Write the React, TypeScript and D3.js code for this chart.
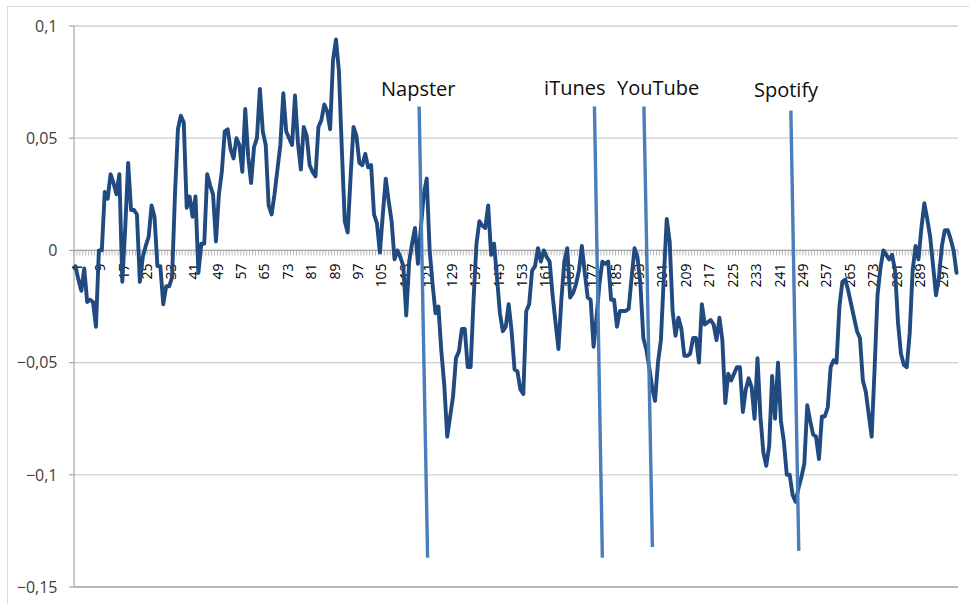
import React from "react";
import * as d3 from "d3";

const values: number[] = [
  -0.007,-0.013,-0.018,-0.008,-0.023,-0.022,-0.023,-0.034,0.000,0.000,
  0.026,0.023,0.034,0.030,0.025,0.034,-0.014,0.010,0.039,0.018,
  0.018,0.016,-0.014,-0.003,0.002,0.006,0.020,0.015,-0.007,-0.007,
  -0.024,-0.016,-0.016,-0.012,0.025,0.054,0.060,0.057,0.019,0.024,
  0.015,0.024,-0.010,0.003,0.003,0.034,0.029,0.025,0.004,0.025,
  0.035,0.053,0.054,0.045,0.041,0.050,0.047,0.035,0.063,0.042,
  0.030,0.046,0.050,0.072,0.053,0.047,0.020,0.016,0.025,0.036,
  0.047,0.070,0.053,0.050,0.047,0.069,0.048,0.036,0.055,0.051,
  0.038,0.035,0.033,0.055,0.058,0.065,0.062,0.054,0.085,0.094,
  0.080,0.045,0.013,0.008,0.033,0.055,0.051,0.039,0.038,0.043,
  0.037,0.038,0.016,0.012,-0.001,0.016,0.032,0.022,0.013,-0.004,
  0.000,-0.003,-0.007,-0.029,-0.005,0.003,0.010,-0.006,0.010,0.025,
  0.032,0.000,-0.015,-0.028,-0.025,-0.045,-0.060,-0.083,-0.074,-0.065,
  -0.048,-0.045,-0.035,-0.035,-0.052,-0.052,-0.022,0.003,0.013,0.011,
  0.010,0.020,-0.002,0.003,-0.012,-0.028,-0.036,-0.034,-0.024,-0.036,
  -0.053,-0.054,-0.062,-0.064,-0.027,-0.024,-0.009,-0.007,0.001,-0.005,
  0.000,-0.003,-0.005,-0.020,-0.032,-0.044,-0.022,-0.005,0.001,-0.021,
  -0.019,-0.015,-0.009,0.002,-0.010,-0.021,-0.022,-0.043,-0.030,-0.015,
  -0.005,-0.006,-0.005,-0.022,-0.022,-0.034,-0.027,-0.027,-0.027,-0.026,
  -0.012,0.001,-0.003,-0.015,-0.039,-0.044,-0.052,-0.061,-0.067,-0.050,
  -0.040,-0.012,0.014,0.004,-0.027,-0.038,-0.030,-0.035,-0.047,-0.047,
  -0.046,-0.039,-0.039,-0.050,-0.024,-0.033,-0.032,-0.031,-0.033,-0.040,
  -0.030,-0.040,-0.068,-0.055,-0.058,-0.055,-0.052,-0.052,-0.072,-0.062,
  -0.057,-0.061,-0.075,-0.048,-0.074,-0.090,-0.096,-0.087,-0.056,-0.075,
  -0.050,-0.076,-0.085,-0.100,-0.100,-0.109,-0.112,-0.106,-0.101,-0.095,
  -0.069,-0.076,-0.082,-0.083,-0.093,-0.074,-0.074,-0.070,-0.052,-0.049,
  -0.050,-0.025,-0.014,-0.013,-0.018,-0.024,-0.030,-0.036,-0.039,-0.058,
  -0.063,-0.073,-0.083,-0.053,-0.020,-0.008,0.000,-0.002,-0.004,-0.002,
  -0.009,-0.032,-0.046,-0.051,-0.052,-0.037,-0.009,0.002,-0.004,0.010,
  0.021,0.014,0.006,-0.007,-0.020,-0.012,0.002,0.009,0.009,0.005,
  0.000,-0.010,
];

const categories: number[] = values.map((_, i) => i + 1);
const xTickLabels: number[] = categories.filter((c) => (c - 1) % 8 === 0);
const yTicks: number[] = [-0.15, -0.1, -0.05, 0, 0.05, 0.1];

// annotation events: label and slanted marker line in data units
const eventNames: string[] = ["Napster", "iTunes", "YouTube", "Spotify"];
const eventLabelX: number[] = [105.4, 161.1, 186.0, 232.8];
const eventLabelY: number[] = [0.0687, 0.0692, 0.0692, 0.0682];
const eventTopX: number[] = [118.4, 178.3, 195.2, 245.4];
const eventTopY: number[] = [0.0641, 0.0641, 0.0641, 0.0623];
const eventBottomX: number[] = [121.3, 181.0, 198.1, 248.1];
const eventBottomY: number[] = [-0.137, -0.137, -0.1322, -0.1339];

const W = 969;
const H = 604;
const plotLeft = 74;
const plotRight = 958;
const plotTop = 26;
const plotBottom = 587;

const fmt = (v: number) => {
  if (v === 0) return "0";
  return d3.format("")(+v.toFixed(2)).replace(".", ",");
};

export default function App() {
  const x = d3.scaleLinear().domain([0.5, categories.length + 0.5]).range([plotLeft, plotRight]);
  const y = d3.scaleLinear().domain([-0.15, 0.1]).range([plotBottom, plotTop]);

  const line = d3
    .line<number>()
    .x((_, i) => x(categories[i]))
    .y((d) => y(d));

  const y0 = y(0);
  const font = "'Open Sans', 'Noto Sans', sans-serif";

  return (
    <svg
      width={W}
      height={H}
      style={{ position: "absolute", left: 0, top: 0, background: "#fff" }}
      fontFamily={font}
    >
      <rect x={7.5} y={6.5} width={W + 20} height={H + 20} fill="#fff" stroke="#d9d9d9" strokeWidth={1} />

      {/* gridlines */}
      {yTicks.map((t) => (
        <line
          key={"g" + t}
          x1={plotLeft}
          x2={plotRight}
          y1={y(t)}
          y2={y(t)}
          stroke={t === -0.15 ? "#a0a0a0" : "#cfcfcf"}
          strokeWidth={1.3}
        />
      ))}

      {/* y axis */}
      <line x1={plotLeft} x2={plotLeft} y1={plotTop} y2={plotBottom} stroke="#a6a6a6" strokeWidth={1.2} />
      {yTicks.map((t) => (
        <g key={"yt" + t}>
          <line x1={plotLeft - 5} x2={plotLeft} y1={y(t)} y2={y(t)} stroke="#a6a6a6" strokeWidth={1.2} />
          <text
            x={57.5}
            y={y(t)}
            dy="0.36em"
            textAnchor="end"
            fontSize={16}
            fill="#404040"
          >
            {fmt(t)}
          </text>
        </g>
      ))}

      {/* x axis at zero */}
      <line x1={plotLeft} x2={plotRight} y1={y0} y2={y0} stroke="#a6a6a6" strokeWidth={1.3} />
      {d3.range(0, categories.length + 1).map((k) => {
        const xx = x(k + 0.5);
        return <line key={"xt" + k} x1={xx} x2={xx} y1={y0} y2={y0 + 5} stroke="#a6a6a6" strokeWidth={0.8} />;
      })}
      {xTickLabels.map((c) => (
        <text
          key={"xl" + c}
          transform={`translate(${x(c) + 1.5},${y0 + 13}) rotate(-90)`}
          dy="0.36em"
          textAnchor="end"
          fontSize={14}
          fill="#000"
        >
          {c}
        </text>
      ))}

      {/* series */}
      <path
        d={line(values) || ""}
        fill="none"
        stroke="#204a80"
        strokeWidth={3.9}
        strokeLinejoin="round"
        strokeLinecap="round"
      />

      {/* event markers */}
      {eventNames.map((n, i) => (
        <g key={n}>
          <line
            x1={x(eventTopX[i])}
            y1={y(eventTopY[i])}
            x2={x(eventBottomX[i])}
            y2={y(eventBottomY[i])}
            stroke="#4a7ebb"
            strokeWidth={3.4}
          />
          <text x={x(eventLabelX[i])} y={y(eventLabelY[i])} fontSize={20} fill="#0d0d0d">
            {n}
          </text>
        </g>
      ))}
    </svg>
  );
}
